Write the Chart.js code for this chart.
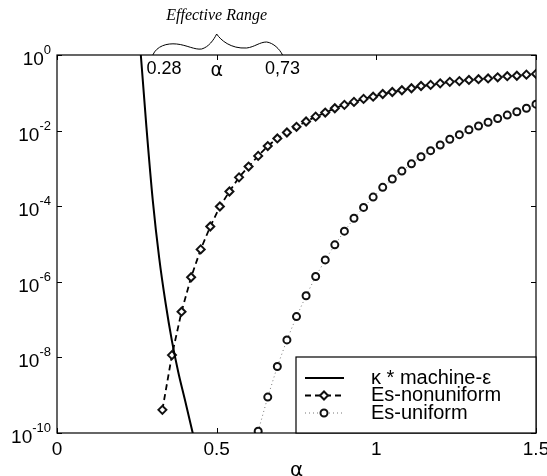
<!DOCTYPE html>
<html>
<head>
<meta charset="utf-8">
<script src="https://cdn.jsdelivr.net/npm/chart.js@4.4.1/dist/chart.umd.min.js"></script>
<style>
  html, body { margin: 0; padding: 0; background: #fff; }
  #wrap { width: 547px; height: 476px; }
</style>
</head>
<body>
<div id="wrap"><canvas id="chart" width="547" height="476"></canvas></div>
<script>
// Es-nonuniform (diamonds)
const alphaNonuniform = [0.33, 0.36, 0.39, 0.42, 0.45, 0.48, 0.51, 0.54, 0.57, 0.60,
  0.63, 0.66, 0.69, 0.72, 0.75, 0.78, 0.81, 0.84, 0.87, 0.90,
  0.93, 0.96, 0.99, 1.02, 1.05, 1.08, 1.11, 1.14, 1.17, 1.20,
  1.23, 1.26, 1.29, 1.32, 1.35, 1.38, 1.41, 1.44, 1.47, 1.50];
const esNonuniform = [4.1e-10, 1.15e-8, 1.62e-7, 1.32e-6, 7.2e-6, 2.9e-5, 9.8e-5, 2.45e-4, 5.8e-4, 1.12e-3,
  2.14e-3, 3.9e-3, 6.2e-3, 8.9e-3, 1.26e-2, 1.74e-2, 2.34e-2, 3.0e-2, 3.9e-2, 4.8e-2,
  5.75e-2, 6.9e-2, 7.9e-2, 9.3e-2, 0.105, 0.117, 0.132, 0.151, 0.162, 0.178,
  0.195, 0.204, 0.219, 0.229, 0.240, 0.257, 0.275, 0.282, 0.302, 0.316];

// Es-uniform (circles)
const alphaUniform = [0.63, 0.66, 0.69, 0.72, 0.75, 0.78, 0.81, 0.84, 0.87, 0.90,
  0.93, 0.96, 0.99, 1.02, 1.05, 1.08, 1.11, 1.14, 1.17, 1.20,
  1.23, 1.26, 1.29, 1.32, 1.35, 1.38, 1.41, 1.44, 1.47, 1.50];
const esUniform = [1.12e-10, 8.9e-10, 5.75e-9, 2.9e-8, 1.2e-7, 4.27e-7, 1.38e-6, 3.8e-6, 9.5e-6, 2.19e-5,
  4.8e-5, 9.3e-5, 1.74e-4, 3.16e-4, 5.25e-4, 8.5e-4, 1.32e-3, 2.04e-3, 2.95e-3, 4.17e-3,
  5.9e-3, 7.8e-3, 1.05e-2, 1.32e-2, 1.66e-2, 2.09e-2, 2.57e-2, 3.16e-2, 3.9e-2, 5.0e-2];

// kappa * machine-eps (solid)
const alphaKappa = [0.25, 0.2625, 0.28, 0.30, 0.32, 0.34, 0.36, 0.38, 0.40, 0.425, 0.44];
const kappaEps = [31.6, 1, 1.26e-2, 1.41e-4, 4.3e-6, 2.75e-7, 2.7e-8, 4.0e-9, 7.9e-10, 1e-10, 2.8e-11];

// Axes and labels
const xTicks = [0, 0.5, 1, 1.5];
const xTickLabels = ["0", "0.5", "1", "1.5"];
const yTickValues = [1, 1e-2, 1e-4, 1e-6, 1e-8, 1e-10];
const yTickExponents = ["0", "-2", "-4", "-6", "-8", "-10"];
const legendLabels = ["\u03BA * machine-\u03B5", "Es-nonuniform", "Es-uniform"];
const rangeTitle = "Effective Range";
const rangeLabels = ["0.28", "\u03B1", "0,73"];

const toPoints = (xs, ys) => xs.map((v, i) => ({ x: v, y: ys[i] }));

const font = '"Liberation Sans", Arial, sans-serif';

const datasets = [
  {
    label: legendLabels[0],
    data: toPoints(alphaKappa, kappaEps),
    borderColor: "#000",
    borderWidth: 2,
    pointRadius: 0,
    cubicInterpolationMode: "monotone",
  },
  {
    label: legendLabels[1],
    data: toPoints(alphaNonuniform, esNonuniform),
    borderColor: "#000",
    borderWidth: 1.8,
    borderDash: [6, 4],
    pointStyle: "rectRot",
    pointRadius: 4,
    pointBorderWidth: 2,
    pointBackgroundColor: "#fff",
    pointBorderColor: "#111",
  },
  {
    label: legendLabels[2],
    data: toPoints(alphaUniform, esUniform),
    borderColor: "#777",
    borderWidth: 1,
    borderDash: [1, 3],
    pointStyle: "circle",
    pointRadius: 3.5,
    pointBorderWidth: 2,
    pointBackgroundColor: "#fff",
    pointBorderColor: "#111",
  },
];

// box, inward ticks, tick labels, legend and the brace annotation
const decorations = {
  id: "decorations",
  afterDatasetsDraw(chart) {
    const { ctx, chartArea: a, scales } = chart;
    const x = scales.x;
    const y = scales.y;
    ctx.save();

    // frame
    ctx.strokeStyle = "#000";
    ctx.lineWidth = 1.2;
    ctx.strokeRect(a.left, a.top, a.right - a.left, a.bottom - a.top);

    // ticks on all four sides
    ctx.lineWidth = 1;
    ctx.beginPath();
    xTicks.forEach((t) => {
      const px = Math.round(x.getPixelForValue(t)) + 0.5;
      ctx.moveTo(px, a.bottom); ctx.lineTo(px, a.bottom - 5);
      ctx.moveTo(px, a.top); ctx.lineTo(px, a.top + 5);
    });
    yTickValues.forEach((t) => {
      const py = Math.round(y.getPixelForValue(t)) + 0.5;
      ctx.moveTo(a.left, py); ctx.lineTo(a.left + 5, py);
      ctx.moveTo(a.right, py); ctx.lineTo(a.right - 5, py);
    });
    ctx.stroke();

    // x tick labels
    ctx.fillStyle = "#000";
    ctx.font = "19px " + font;
    ctx.textAlign = "center";
    ctx.textBaseline = "alphabetic";
    xTicks.forEach((t, i) => {
      ctx.fillText(xTickLabels[i], x.getPixelForValue(t), 455);
    });

    // y tick labels with superscripts
    yTickValues.forEach((t, i) => {
      const py = y.getPixelForValue(t);
      ctx.font = "13px " + font;
      const supW = ctx.measureText(yTickExponents[i]).width;
      ctx.textAlign = "left";
      ctx.fillText(yTickExponents[i], 51 - supW, py - 1);
      ctx.font = "19px " + font;
      ctx.textAlign = "right";
      ctx.fillText("10", 51 - supW, py + 10);
    });

    // x axis title
    ctx.textAlign = "center";
    ctx.font = '20px "DejaVu Sans", sans-serif';
    ctx.fillText("\u03B1", (a.left + a.right) / 2, 476);

    // legend
    const lx = 296, ly = 357, lw = a.right - lx, lh = a.bottom - ly;
    ctx.fillStyle = "#fff";
    ctx.fillRect(lx, ly, lw, lh);
    ctx.strokeStyle = "#000";
    ctx.lineWidth = 1.2;
    ctx.strokeRect(lx, ly, lw, lh);
    const rows = [378, 395.5, 413];
    datasets.forEach((ds, i) => {
      const ry = rows[i];
      ctx.save();
      ctx.strokeStyle = ds.borderColor;
      ctx.lineWidth = ds.borderWidth;
      ctx.setLineDash(ds.borderDash || []);
      ctx.beginPath();
      ctx.moveTo(305, ry);
      ctx.lineTo(344, ry);
      ctx.stroke();
      ctx.restore();
      if (ds.pointRadius > 0) {
        ctx.fillStyle = ds.pointBackgroundColor;
        ctx.strokeStyle = ds.pointBorderColor;
        ctx.lineWidth = ds.pointBorderWidth;
        Chart.helpers.drawPoint(ctx, {
          pointStyle: ds.pointStyle,
          radius: ds.pointRadius,
          borderWidth: ds.pointBorderWidth,
          rotation: 0,
        }, 324, ry);
      }
      ctx.fillStyle = "#000";
      ctx.font = "20px " + font;
      ctx.textAlign = "left";
      ctx.textBaseline = "middle";
      ctx.fillText(ds.label, 371, ry);
    });

    // effective range annotation
    const p0 = x.getPixelForValue(0.3);
    const pm = x.getPixelForValue(0.5);
    const p1 = x.getPixelForValue(0.7);
    ctx.strokeStyle = "#000";
    ctx.lineWidth = 1;
    ctx.beginPath();
    ctx.moveTo(p0, a.top);
    ctx.bezierCurveTo(p0 + 4, a.top - 9, p0 + 14, a.top - 12, pm - 40, a.top - 11);
    ctx.bezierCurveTo(pm - 30, a.top - 10, pm - 22, a.top - 5, pm - 15, a.top - 6);
    ctx.bezierCurveTo(pm - 8, a.top - 8, pm - 3, a.top - 15, pm, a.top - 21);
    ctx.bezierCurveTo(pm + 4, a.top - 15, pm + 14, a.top - 6, pm + 30, a.top - 7);
    ctx.bezierCurveTo(pm + 38, a.top - 8, pm + 43, a.top - 13, pm + 50, a.top - 13);
    ctx.bezierCurveTo(p1 - 7, a.top - 12, p1 - 1, a.top - 6, p1 + 2, a.top);
    ctx.stroke();

    ctx.fillStyle = "#000";
    ctx.textBaseline = "alphabetic";
    ctx.font = 'italic 16px "Liberation Serif", serif';
    ctx.textAlign = "center";
    ctx.fillText(rangeTitle, pm, 20);

    ctx.font = "18px " + font;
    ctx.textAlign = "left";
    ctx.fillText(rangeLabels[0], x.getPixelForValue(0.28), 74);
    ctx.textAlign = "center";
    ctx.font = '19px "DejaVu Sans", sans-serif';
    ctx.fillText(rangeLabels[1], pm, 76);
    ctx.font = "18px " + font;
    ctx.textAlign = "right";
    ctx.fillText(rangeLabels[2], 300, 74);

    ctx.restore();
  },
};

new Chart(document.getElementById("chart").getContext("2d"), {
  type: "line",
  data: { datasets: datasets },
  options: {
    responsive: false,
    animation: false,
    layout: { padding: { top: 55, right: 11, left: 0, bottom: 0 } },
    scales: {
      x: {
        type: "linear",
        min: 0,
        max: 1.5,
        ticks: { display: false },
        grid: { display: false },
        border: { display: false },
        afterFit: (s) => { s.height = 43; },
      },
      y: {
        type: "logarithmic",
        min: 1e-10,
        max: 1,
        ticks: { display: false },
        grid: { display: false },
        border: { display: false },
        afterFit: (s) => { s.width = 57; },
      },
    },
    plugins: {
      legend: { display: false },
      tooltip: { enabled: false },
    },
  },
  plugins: [decorations],
});
</script>
</body>
</html>
